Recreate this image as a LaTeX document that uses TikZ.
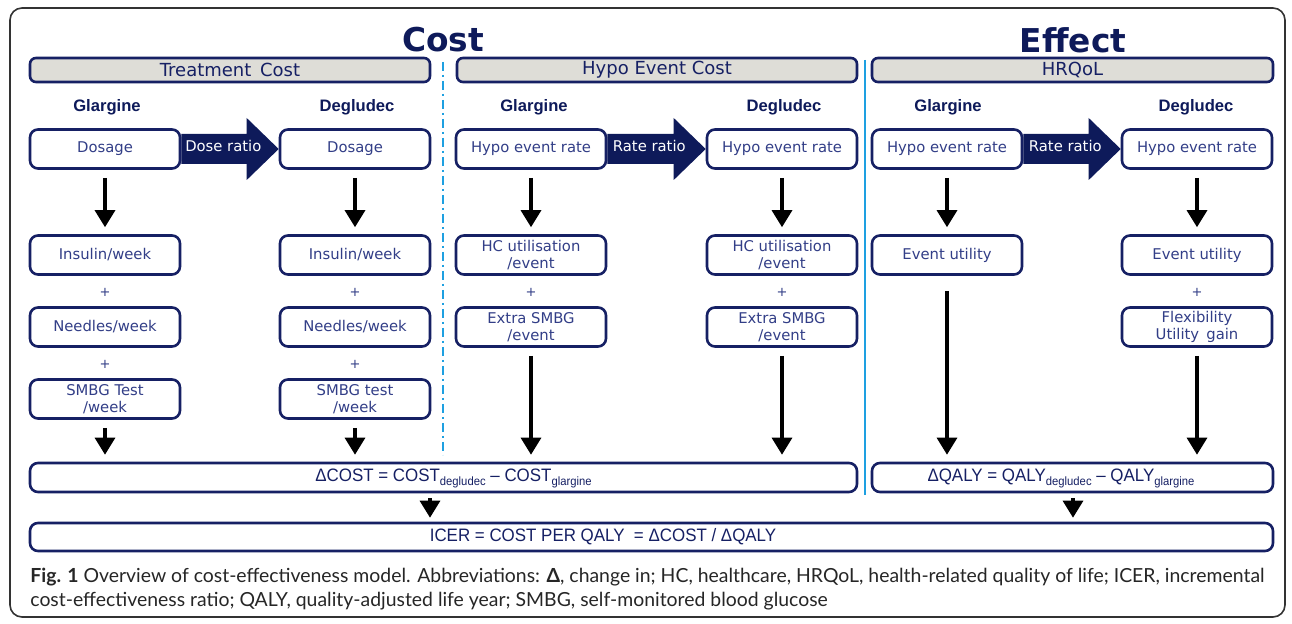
\documentclass[tikz,border=0pt]{standalone}
\usepackage{fontspec}
\setmainfont{DejaVu Sans}
\newfontfamily\verd{DejaVu Sans}
\newfontfamily\ari[FakeStretch=0.94]{Liberation Sans}
\newfontfamily\arib{Liberation Sans}
\newfontfamily\capf{Lato}
\usetikzlibrary{arrows.meta,calc}
\definecolor{navy}{RGB}{22,32,100}
\definecolor{boxtext}{RGB}{50,62,135}
\definecolor{hdrfill}{RGB}{222,221,215}
\definecolor{sepblue}{RGB}{30,160,225}
\definecolor{titlenavy}{RGB}{14,26,90}
\newcommand\sbx[1]{\raisebox{-2pt}{\fontsize{6}{7}\selectfont #1}}
\begin{document}
\begin{tikzpicture}[x=0.5pt,y=-0.5pt,
  box/.style={draw=navy, line width=1.3pt, rounded corners=4pt, fill=white, minimum width=75pt, minimum height=19.5pt, inner sep=1pt, align=center, text=boxtext, font=\verd\fontsize{7.4}{8.6}\selectfont},
  hdr/.style={draw=navy, line width=1.3pt, rounded corners=3pt, fill=hdrfill, minimum height=12pt, inner sep=0pt, text=navy, font=\verd\fontsize{9}{10}\selectfont},
  drug/.style={text=titlenavy, font=\arib\bfseries\fontsize{8.3}{10}\selectfont},
  ttl/.style={text=titlenavy, font=\verd\bfseries\fontsize{16.4}{18}\selectfont},
  plus/.style={text=boxtext, font=\verd\fontsize{6.5}{7}\selectfont},
  dn/.style={line width=1.6pt, -{Triangle[width=10pt,length=8.5pt]}, shorten <=4pt, shorten >=3.5pt},
  ratiotext/.style={text=white, font=\verd\fontsize{7.4}{8}\selectfont},
  eqbox/.style={draw=navy, line width=1.3pt, rounded corners=4pt, minimum height=14.5pt, inner sep=0pt},
  eq/.style={text=navy, inner sep=0pt, font=\ari\fontsize{9}{10}\selectfont},
  capt/.style={anchor=base west, inner sep=0pt, text=black!85, font=\capf\fontsize{9.7}{11}\selectfont},
]
\useasboundingbox (0,0) rectangle (1292,624);
\fill[white] (0,0) rectangle (1292,624);
\draw[line width=0.8pt, black!80, rounded corners=6pt] (10,8) rectangle (1285,617);

% titles
\node[ttl] (tcost) at (443,40) {Cost};
\node[ttl] (teff) at (1073,40) {Effect};

% separators
\draw[sepblue, line width=1pt, dash pattern=on 4.5pt off 2pt on 1pt off 2pt] (443,62) -- (443,455);
\draw[sepblue, line width=1.2pt] (865,60) -- (865,495);

% header bars
\node[hdr, minimum width=200pt] (h1) at (230,70) {Treatment\, Cost};
\node[hdr, minimum width=200pt] (h2) at (657,70) {Hypo Event Cost};
\node[hdr, minimum width=200.5pt] (h3) at (1072.5,70) {HRQoL};

% drug labels
\node[drug] (lg1) at (107,107) {Glargine};
\node[drug] (ld1) at (357,107) {Degludec};
\node[drug] (lg2) at (534,107) {Glargine};
\node[drug] (ld2) at (784,107) {Degludec};
\node[drug] (lg3) at (948,107) {Glargine};
\node[drug] (ld3) at (1196,107) {Degludec};

% row 1
\node[box] (g1) at (105,149) {Dosage};
\node[box] (d1) at (355,149) {Dosage};
\node[box] (g2) at (531,149) {Hypo event rate};
\node[box] (d2) at (782,149) {Hypo event rate};
\node[box] (g3) at (947,149) {Hypo event rate};
\node[box] (d3) at (1197,149) {Hypo event rate};

% ratio arrows
\foreach \a/\b in {g1/d1, g2/d2, g3/d3}{
  \fill[titlenavy] ($(\a.east)+(0,-15)$) -- ($(\b.west)+(-32,-15)$) -- ($(\b.west)+(-32,-31)$) -- (\b.west)
    -- ($(\b.west)+(-32,31)$) -- ($(\b.west)+(-32,15)$) -- ($(\a.east)+(0,15)$) -- cycle;
}
\node[ratiotext] (r1) at ($(g1.east)+(42,-3)$) {Dose ratio};
\node[ratiotext] (r2) at ($(g2.east)+(42,-3)$) {Rate ratio};
\node[ratiotext] (r3) at ($(g3.east)+(42,-3)$) {Rate ratio};

% row 2
\node[box] (ins1) at (105,255) {Insulin/week};
\node[box] (ins2) at (355,255) {Insulin/week};
\node[box] (hc1) at (531,255) {HC utilisation\\/event};
\node[box] (hc2) at (782,255) {HC utilisation\\/event};
\node[box] (eu1) at (947,255) {Event utility};
\node[box] (eu2) at (1197,255) {Event utility};

% plus row 1
\node[plus] (p1) at (105,292) {+};
\node[plus] (p2) at (355,292) {+};
\node[plus] (p3) at (531,292) {+};
\node[plus] (p4) at (782,292) {+};
\node[plus] (p5) at (1197,292) {+};

% row 3
\node[box] (nd1) at (105,327) {Needles/week};
\node[box] (nd2) at (355,327) {Needles/week};
\node[box] (ex1) at (531,327) {Extra SMBG\\/event};
\node[box] (ex2) at (782,327) {Extra SMBG\\/event};
\node[box] (fl2) at (1197,327) {Flexibility\\Utility\, gain};

% plus row 2
\node[plus] (p6) at (105,364) {+};
\node[plus] (p7) at (355,364) {+};

% row 4
\node[box] (sm1) at (105,399) {SMBG Test\\/week};
\node[box] (sm2) at (355,399) {SMBG test\\/week};

% result boxes
\node[eqbox, minimum width=413.5pt] (dcost) at (443.5,477.5) {};
\node[eq] (dcostt) at (453.5,478) {ΔCOST = COST\sbx{degludec} – COST\sbx{glargine}};
\node[eqbox, minimum width=200.5pt] (dqaly) at (1072.5,477.5) {};
\node[eq] (dqalyt) at (1061,478) {ΔQALY = QALY\sbx{degludec} – QALY\sbx{glargine}};
\node[eqbox, minimum width=621.5pt, minimum height=14pt] (icer) at (651.5,537) {};
\node[eq] (icert) at (603,537) {ICER = COST PER QALY \ = ΔCOST / ΔQALY};

% down arrows
\draw[dn] (g1) -- (ins1);
\draw[dn] (d1) -- (ins2);
\draw[dn] (g2) -- (hc1);
\draw[dn] (d2) -- (hc2);
\draw[dn] (g3) -- (eu1);
\draw[dn] (d3) -- (eu2);
\draw[dn] (sm1.south) -- (sm1.south |- dcost.north);
\draw[dn] (sm2.south) -- (sm2.south |- dcost.north);
\draw[dn] (ex1.south) -- (ex1.south |- dcost.north);
\draw[dn] (ex2.south) -- (ex2.south |- dcost.north);
\draw[dn, shorten <=7.5pt] (eu1.south) -- (eu1.south |- dqaly.north);
\draw[dn] (fl2.south) -- (fl2.south |- dqaly.north);
\coordinate (xa) at (430,0);
\coordinate (xb) at (1073,0);
\draw[dn, shorten <=2.5pt, shorten >=2pt] (dcost.south -| xa) -- (icer.north -| xa);
\draw[dn, shorten <=2.5pt, shorten >=2pt] (dqaly.south -| xb) -- (icer.north -| xb);

% caption
\node[capt] (cap1) at (30,583) {\textbf{Fig. 1} Overview of cost-effectiveness model. Abbreviations: \textbf{Δ}, change in; HC, healthcare, HRQoL, health-related quality of life; ICER, incremental};
\node[capt] (cap2) at (30,607) {cost-effectiveness ratio; QALY, quality-adjusted life year; SMBG, self-monitored blood glucose};
\end{tikzpicture}
\end{document}
